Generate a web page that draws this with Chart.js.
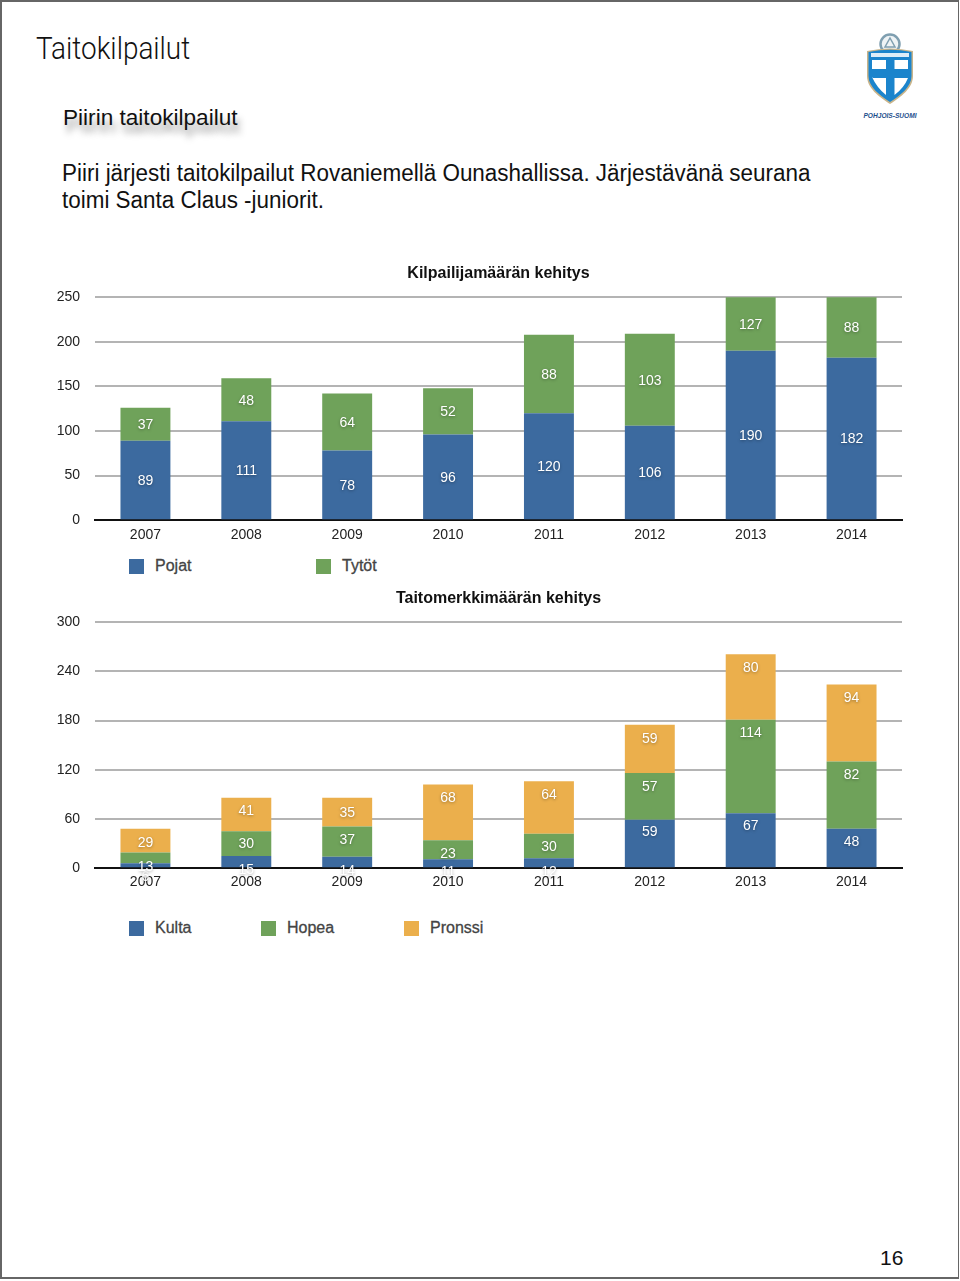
<!DOCTYPE html>
<html><head><meta charset="utf-8">
<script src="https://cdn.jsdelivr.net/npm/chart.js@4"></script>
<style>
html,body{margin:0;padding:0;background:#fff}
body{position:relative;width:960px;height:1281px;overflow:hidden;font-family:"Liberation Sans",Arial,sans-serif;color:#111}
#frame{position:absolute;left:0;top:0;width:956px;height:1275px;border:2px solid #666;border-width:2px 1px 2px 2px}
.t{position:absolute;white-space:nowrap}
canvas{position:absolute;left:0}
.lg{position:absolute;font-size:16px;color:#444;-webkit-text-stroke:.3px #444;white-space:nowrap}
.sw{position:absolute;width:15px;height:15px}
</style></head><body>
<div id="frame"></div>
<div class="t" style="left:36px;top:30px;font-family:Roboto;font-weight:300;font-size:31px;transform:scaleX(.9);transform-origin:left top">Taitokilpailut</div>
<div class="t" style="left:63px;top:105px;font-size:22.6px;text-shadow:3px 8px 7px rgba(0,0,0,.4)">Piirin taitokilpailut</div>
<div class="t" style="left:62px;top:160px;font-size:23.5px;line-height:27px;transform:scaleX(.955);transform-origin:left top">Piiri järjesti taitokilpailut Rovaniemellä Ounashallissa. Järjestävänä seurana<br>toimi Santa Claus -juniorit.</div>
<svg style="position:absolute;left:860px;top:30px" width="60" height="92" viewBox="0 0 60 92">
<circle cx="30" cy="14" r="9.500" fill="#eef3f5" stroke="#7f9fb0" stroke-width="2.500"/>
<path d="M30 8L35 17H25Z" fill="none" stroke="#7f9fb0" stroke-width="1.500"/>
<path d="M7 21Q30 16 53 21V46C53 58 41 67 30 74C19 67 7 58 7 46Z" fill="#c8b48a"/>
<path d="M8.500 22Q30 17.500 51.500 22V46C51.500 57 40 65.500 30 72C20 65.500 8.500 57 8.500 46Z" fill="#1b84cc"/>
<path d="M12 30H26V39H12ZM34.500 30H48V39H34.500ZM12 48H26V65Q17 58 12 47ZM34.500 48H48Q44 58 34.500 65Z" fill="#fff"/>
<path d="M11 23H49V27H11Z" fill="#fff" opacity=".85"/>
<text x="30" y="88" text-anchor="middle" font-family="Liberation Sans" font-weight="700" font-style="italic" font-size="6.600" fill="#1d4f8c">POHJOIS-SUOMI</text>
</svg>
<canvas id="c1" width="960" height="301" style="top:250px;width:960px;height:301px"></canvas>
<div id="l1"></div>
<canvas id="c2" width="960" height="317" style="top:580px;width:960px;height:317px"></canvas>
<div id="l2"></div>
<div class="t" style="left:880px;top:1246px;font-size:21px">16</div>
<script>
const years = ['2007','2008','2009','2010','2011','2012','2013','2014'];
const pojat = [89,111,78,96,120,106,190,182];
const tytot = [37,48,64,52,88,103,127,88];
const kulta = [6,15,14,11,12,59,67,48];
const hopea = [13,30,37,23,30,57,114,82];
const pronssi = [29,41,35,68,64,59,80,94];
// the reference's medal labels sit away from their segment centres
const kultaLabelShift = [11,8,8,8,8,-12,-15,-7];
const hopeaLabelShift = [8,0,-2,3,0,-10,-34,-21];
const pronssiLabelShift = [1,-4,0,-15,-13,-11,-20,-26];
const BLUE='#3c6a9f', GREEN='#6fa25a', ORANGE='#ebaf4c';

const labelPlugin = {
  id:'segLabels',
  afterDraw(chart){
    const {ctx,chartArea} = chart;
    ctx.save();
    ctx.font='14px "Liberation Sans"';
    ctx.textAlign='center'; ctx.textBaseline='middle';
    ctx.shadowColor='rgba(0,0,0,.35)'; ctx.shadowBlur=3; ctx.shadowOffsetX=0; ctx.shadowOffsetY=1;
    ctx.fillStyle='#fff';
    chart.data.datasets.forEach((ds,d)=>{
      chart.getDatasetMeta(d).data.forEach((bar,i)=>{
        const top=Math.max(bar.y,chartArea.top), bottom=Math.max(bar.base,chartArea.top);
        const shift=ds.labelShift?ds.labelShift[i]:0;
        ctx.fillText(String(ds.data[i]),bar.x,(top+bottom)/2+shift+1);
      });
    });
    ctx.restore();
  }
};

function make(id,legendId,legendY,datasets,title,max,step,topPad,titlePad,tickPad,xs){
  const chart = new Chart(document.getElementById(id),{
    type:'bar',
    data:{labels:years,datasets},
    plugins:[labelPlugin],
    options:{
      responsive:false,animation:false,
      layout:{padding:{left:0,right:58,top:topPad,bottom:0}},
      plugins:{
        legend:{display:false},tooltip:{enabled:false},
        title:{display:true,text:title,fullSize:false,color:'#111',
          font:{family:'"Liberation Sans"',size:16,weight:'bold'},padding:{top:0,bottom:titlePad}}
      },
      scales:{
        x:{stacked:true,z:1,
          grid:{display:false,drawTicks:false},
          border:{color:'#111',width:2},
          ticks:{color:'#222',font:{family:'"Liberation Sans"',size:14},padding:tickPad,maxRotation:0}},
        y:{stacked:true,min:0,max,
          afterFit(s){s.width=95},
          grid:{color:'#b4b4b4',lineWidth:2,drawTicks:false},
          border:{display:false},
          ticks:{stepSize:step,color:'#222',padding:15,font:{family:'"Liberation Sans"',size:14}}}
      }
    }
  });
  const host=document.getElementById(legendId);
  datasets.forEach((ds,i)=>{
    const sw=document.createElement('div');sw.className='sw';
    sw.style.cssText=`left:${xs[i]}px;top:${legendY-7}px;background:${ds.backgroundColor}`;
    const tx=document.createElement('div');tx.className='lg';tx.textContent=ds.label;
    tx.style.cssText=`left:${xs[i]+26}px;top:${legendY-9}px`;
    host.append(sw,tx);
  });
  return chart;
}
const bar={barPercentage:.495,categoryPercentage:1,borderWidth:0};
make('c1','l1',566,[
  {label:'Pojat',data:pojat,backgroundColor:BLUE,...bar},
  {label:'Tytöt',data:tytot,backgroundColor:GREEN,...bar}
],'Kilpailijamäärän kehitys',250,50,14,14,7,[129,316]);
make('c2','l2',928,[
  {label:'Kulta',data:kulta,labelShift:kultaLabelShift,backgroundColor:BLUE,...bar},
  {label:'Hopea',data:hopea,labelShift:hopeaLabelShift,backgroundColor:GREEN,...bar},
  {label:'Pronssi',data:pronssi,labelShift:pronssiLabelShift,backgroundColor:ORANGE,...bar}
],'Taitomerkkimäärän kehitys',300,60,9,14,6,[129,261,404]);
</script>
</body></html>
